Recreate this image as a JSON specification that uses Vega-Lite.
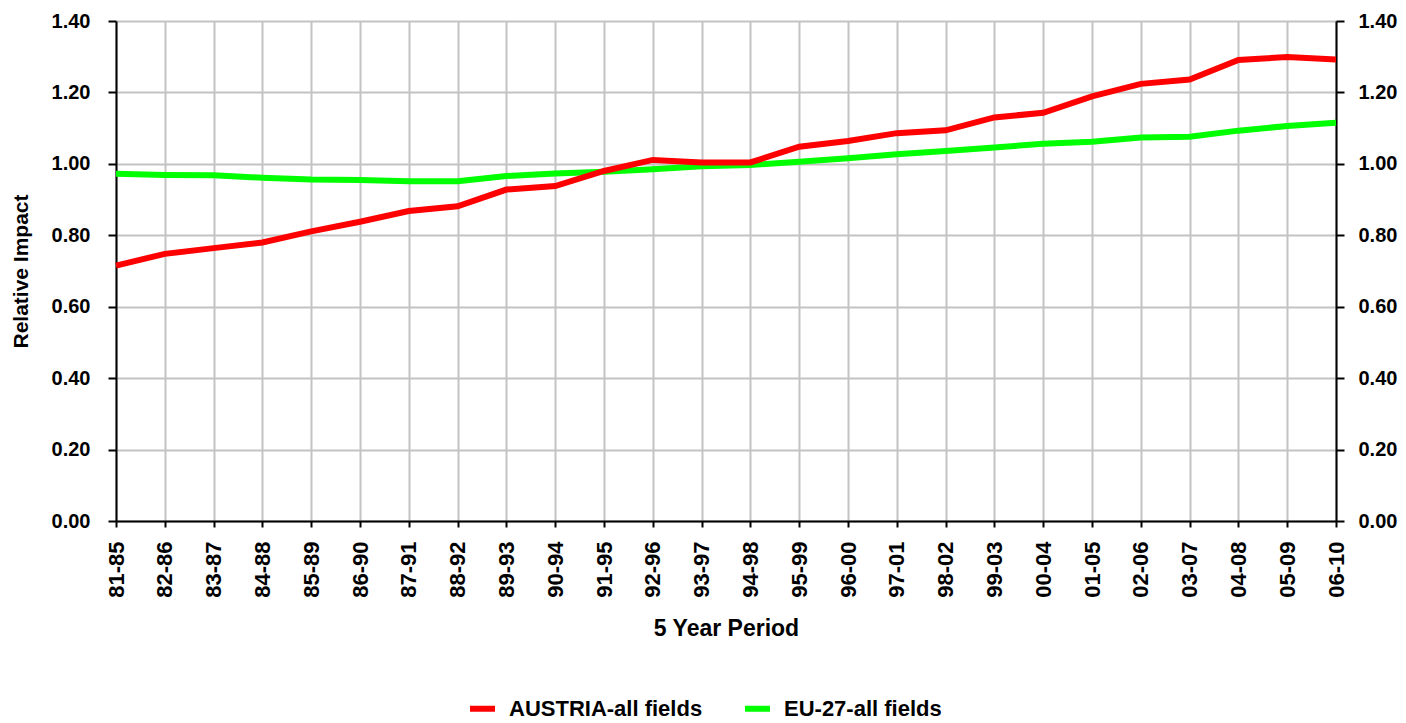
{
  "$schema": "https://vega.github.io/schema/vega-lite/v6.json",
  "width": 1220,
  "height": 500,
  "autosize": "none",
  "padding": {"left": 116, "top": 21, "right": 70, "bottom": 202},
  "background": "white",
  "config": {
    "view": {"stroke": null},
    "font": "Liberation Sans",
    "axis": {
      "labelFont": "Liberation Sans",
      "labelFontWeight": "bold",
      "labelColor": "black",
      "titleFont": "Liberation Sans",
      "titleFontWeight": "bold",
      "titleColor": "black",
      "domainColor": "black",
      "domainWidth": 2,
      "tickColor": "black",
      "tickWidth": 2,
      "gridColor": "#c3c3c3",
      "gridWidth": 2
    },
    "legend": {
      "labelFont": "Liberation Sans",
      "labelFontWeight": "bold",
      "labelColor": "black"
    }
  },
  "data": {
    "values": [
      {"period": "81-85", "series": "AUSTRIA-all fields", "value": 0.715},
      {"period": "82-86", "series": "AUSTRIA-all fields", "value": 0.748},
      {"period": "83-87", "series": "AUSTRIA-all fields", "value": 0.764},
      {"period": "84-88", "series": "AUSTRIA-all fields", "value": 0.780},
      {"period": "85-89", "series": "AUSTRIA-all fields", "value": 0.811},
      {"period": "86-90", "series": "AUSTRIA-all fields", "value": 0.838},
      {"period": "87-91", "series": "AUSTRIA-all fields", "value": 0.868},
      {"period": "88-92", "series": "AUSTRIA-all fields", "value": 0.881},
      {"period": "89-93", "series": "AUSTRIA-all fields", "value": 0.928},
      {"period": "90-94", "series": "AUSTRIA-all fields", "value": 0.938},
      {"period": "91-95", "series": "AUSTRIA-all fields", "value": 0.980},
      {"period": "92-96", "series": "AUSTRIA-all fields", "value": 1.011},
      {"period": "93-97", "series": "AUSTRIA-all fields", "value": 1.004},
      {"period": "94-98", "series": "AUSTRIA-all fields", "value": 1.004},
      {"period": "95-99", "series": "AUSTRIA-all fields", "value": 1.048},
      {"period": "96-00", "series": "AUSTRIA-all fields", "value": 1.064},
      {"period": "97-01", "series": "AUSTRIA-all fields", "value": 1.086},
      {"period": "98-02", "series": "AUSTRIA-all fields", "value": 1.094},
      {"period": "99-03", "series": "AUSTRIA-all fields", "value": 1.130},
      {"period": "00-04", "series": "AUSTRIA-all fields", "value": 1.143},
      {"period": "01-05", "series": "AUSTRIA-all fields", "value": 1.189},
      {"period": "02-06", "series": "AUSTRIA-all fields", "value": 1.224},
      {"period": "03-07", "series": "AUSTRIA-all fields", "value": 1.236},
      {"period": "04-08", "series": "AUSTRIA-all fields", "value": 1.291},
      {"period": "05-09", "series": "AUSTRIA-all fields", "value": 1.299},
      {"period": "06-10", "series": "AUSTRIA-all fields", "value": 1.292},
      {"period": "81-85", "series": "EU-27-all fields", "value": 0.972},
      {"period": "82-86", "series": "EU-27-all fields", "value": 0.969},
      {"period": "83-87", "series": "EU-27-all fields", "value": 0.968},
      {"period": "84-88", "series": "EU-27-all fields", "value": 0.961},
      {"period": "85-89", "series": "EU-27-all fields", "value": 0.956},
      {"period": "86-90", "series": "EU-27-all fields", "value": 0.955},
      {"period": "87-91", "series": "EU-27-all fields", "value": 0.951},
      {"period": "88-92", "series": "EU-27-all fields", "value": 0.951},
      {"period": "89-93", "series": "EU-27-all fields", "value": 0.966},
      {"period": "90-94", "series": "EU-27-all fields", "value": 0.973},
      {"period": "91-95", "series": "EU-27-all fields", "value": 0.978},
      {"period": "92-96", "series": "EU-27-all fields", "value": 0.985},
      {"period": "93-97", "series": "EU-27-all fields", "value": 0.993},
      {"period": "94-98", "series": "EU-27-all fields", "value": 0.997},
      {"period": "95-99", "series": "EU-27-all fields", "value": 1.006},
      {"period": "96-00", "series": "EU-27-all fields", "value": 1.016},
      {"period": "97-01", "series": "EU-27-all fields", "value": 1.027},
      {"period": "98-02", "series": "EU-27-all fields", "value": 1.036},
      {"period": "99-03", "series": "EU-27-all fields", "value": 1.046},
      {"period": "00-04", "series": "EU-27-all fields", "value": 1.056},
      {"period": "01-05", "series": "EU-27-all fields", "value": 1.062},
      {"period": "02-06", "series": "EU-27-all fields", "value": 1.074},
      {"period": "03-07", "series": "EU-27-all fields", "value": 1.076},
      {"period": "04-08", "series": "EU-27-all fields", "value": 1.093},
      {"period": "05-09", "series": "EU-27-all fields", "value": 1.106},
      {"period": "06-10", "series": "EU-27-all fields", "value": 1.115}
    ]
  },
  "encoding": {
    "x": {
      "field": "period",
      "type": "ordinal",
      "sort": null,
      "scale": {"type": "point", "padding": 0},
      "axis": {
        "title": "5 Year Period",
        "titleFontSize": 23,
        "titlePadding": 20,
        "labelFontSize": 22,
        "labelAngle": 270,
        "labelPadding": 14,
        "labelOverlap": false,
        "labelBound": false,
        "tickSize": 6,
        "grid": true
      }
    },
    "color": {
      "field": "series",
      "type": "nominal",
      "scale": {"domain": ["AUSTRIA-all fields", "EU-27-all fields"], "range": ["#ff0000", "#00ff00"]},
      "legend": {
        "title": null,
        "orient": "none",
        "direction": "horizontal",
        "legendX": 351,
        "legendY": 672,
        "padding": 0,
        "labelFontSize": 22,
        "labelLimit": 0,
        "labelOffset": 11,
        "columnPadding": 30,
        "symbolType": "stroke",
        "symbolSize": 625,
        "symbolStrokeWidth": 6
      }
    }
  },
  "layer": [
    {
      "transform": [{"filter": "datum.series === 'EU-27-all fields'"}],
      "mark": {"type": "line", "strokeWidth": 6, "strokeJoin": "miter"},
      "encoding": {
        "y": {
          "field": "value",
          "type": "quantitative",
          "scale": {"domain": [0, 1.4], "nice": false},
          "axis": {
            "orient": "right",
            "title": null,
            "format": ".2f",
            "values": [0, 0.2, 0.4, 0.6, 0.8, 1.0, 1.2, 1.4],
            "labelFontSize": 20,
            "labelPadding": 14,
            "tickSize": 8,
            "grid": false
          }
        }
      }
    },
    {
      "transform": [{"filter": "datum.series === 'AUSTRIA-all fields'"}],
      "mark": {"type": "line", "strokeWidth": 6, "strokeJoin": "miter"},
      "encoding": {
        "y": {
          "field": "value",
          "type": "quantitative",
          "scale": {"domain": [0, 1.4], "nice": false},
          "axis": {
            "orient": "left",
            "title": "Relative Impact",
            "titleFontSize": 21,
            "titlePadding": 20,
            "format": ".2f",
            "values": [0, 0.2, 0.4, 0.6, 0.8, 1.0, 1.2, 1.4],
            "labelFontSize": 20,
            "labelPadding": 18,
            "tickSize": 8,
            "grid": true
          }
        }
      }
    }
  ],
  "resolve": {"axis": {"y": "independent"}}
}
